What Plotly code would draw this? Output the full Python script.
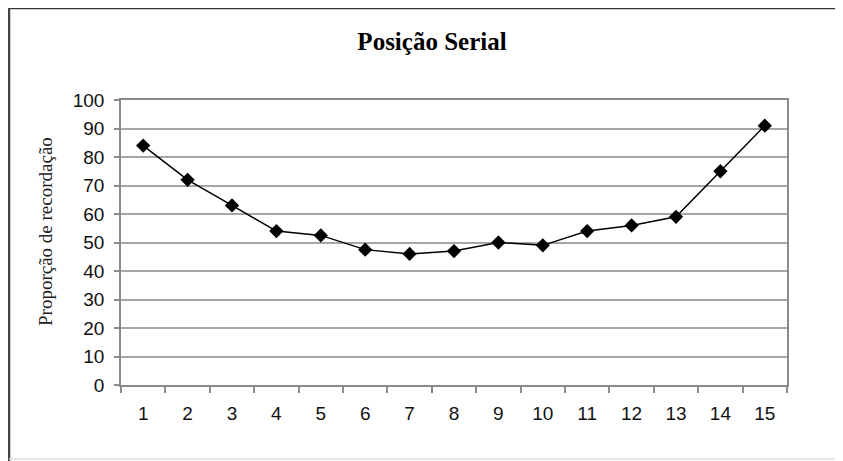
import plotly.graph_objects as go

positions = [str(i) for i in range(1, 16)]
recall = [84, 72, 63, 54, 52.5, 47.5, 46, 47, 50, 49, 54, 56, 59, 75, 91]
y_ticks = list(range(0, 101, 10))

# page body has an 8px margin; figure coordinates = window coordinates - 8
OFF = 8
W, H = 843 - OFF, 461 - OFF
L, R, T, B = 121 - OFF, 56, 100 - OFF, 76

fig = go.Figure()
fig.add_trace(go.Scatter(
    x=positions, y=recall, mode="lines+markers",
    line=dict(color="black", width=1.5),
    marker=dict(symbol="diamond", size=11, color="black"),
    showlegend=False, hoverinfo="skip",
))

fig.update_layout(
    width=W, height=H,
    margin=dict(l=L, r=R, t=T, b=B),
    paper_bgcolor="white", plot_bgcolor="white",
    title=dict(text="<b>Posição Serial</b>", x=(432 - OFF) / W, xanchor="center",
               y=1 - (41 - OFF) / H, yanchor="middle",
               font=dict(family="Liberation Serif", size=25, color="black")),
    font=dict(family="Liberation Sans", size=19, color="black"),
)

fig.update_xaxes(
    type="category", range=[-0.5, 14.5],
    showline=True, linecolor="#8a8a8a", linewidth=1.5, mirror=True,
    ticks="outside", tickson="boundaries", ticklen=6, tickcolor="#8a8a8a", tickwidth=1.5,
    showgrid=False, ticklabelstandoff=10,
    tickfont=dict(family="Liberation Sans", size=19, color="#111"),
)
fig.update_yaxes(
    range=[0, 100], tickvals=y_ticks,
    showline=True, linecolor="#8a8a8a", linewidth=1.5, mirror=True,
    ticks="outside", ticklen=5, tickcolor="#8a8a8a", tickwidth=1.5,
    showgrid=True, gridcolor="#a6a6a6", gridwidth=1.5,
    zeroline=False, ticklabelstandoff=6,
    tickfont=dict(family="Liberation Sans", size=19, color="#111"),
)

pw = W - L - R
ph = H - T - B


def px(xw):
    return (xw - OFF - L) / pw


def py(yw):
    return (H - B - (yw - OFF)) / ph


fig.add_annotation(
    text="Proporção de recordação", textangle=-90,
    xref="paper", yref="paper",
    x=px(45), y=py(232),
    xanchor="center", yanchor="middle", showarrow=False,
    font=dict(family="Liberation Serif", size=19, color="#222"),
)

# outer chart border
fig.add_shape(type="line", xref="paper", yref="paper",
              x0=px(9), x1=px(845), y0=py(8), y1=py(8),
              line=dict(color="#333", width=2.5))
fig.add_shape(type="line", xref="paper", yref="paper",
              x0=px(9), x1=px(9), y0=py(8), y1=py(465),
              line=dict(color="#444", width=2.5))
fig.add_shape(type="line", xref="paper", yref="paper",
              x0=px(9), x1=px(845), y0=py(459), y1=py(459),
              line=dict(color="#dddddd", width=1.5))

fig.write_html("out.html")
